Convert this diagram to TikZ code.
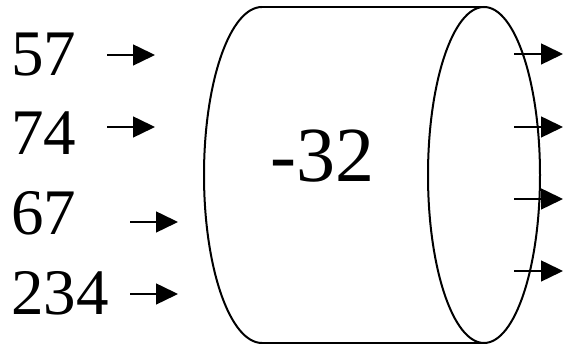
\documentclass[tikz,border=0pt]{standalone}
\usepackage{fontspec}
\setmainfont{Liberation Serif}
\usetikzlibrary{arrows.meta}
\tikzset{
  num/.style={anchor=base west,inner sep=0pt,font=\fontsize{65}{65}\selectfont},
  arr/.style={line width=1.5pt,-{Triangle[length=22pt,width=21pt]}},
  rim/.style={line width=2pt}
}
\begin{document}
\begin{tikzpicture}[x=1pt,y=1pt]
        \useasboundingbox (0,0) rectangle (563,344);
        %% cylinder
        \draw[rim] (262,337) -- (484,337);
        \draw[rim] (262,1) -- (484,1);
        \draw[rim] (262,337) arc (90:270:58 and 168);
        \draw[rim] (484,169) ellipse (56 and 168);
        \node[num,font=\fontsize{78}{78}\selectfont] (sum) at (270,162) {-32};
        %% inputs
        \node[num] (n57) at (11,268) {57};
        \node[num] (n74) at (11,189) {74};
        \node[num] (n67) at (11,109) {67};
        \node[num] (n234) at (11,29) {234};
        \coordinate (a1) at (107,289); \coordinate (b1) at (155,289);
        \coordinate (a2) at (107,217); \coordinate (b2) at (155,217);
        \coordinate (a3) at (130,122); \coordinate (b3) at (178,122);
        \coordinate (a4) at (130,50);  \coordinate (b4) at (178,50);
        \foreach \i in {1,...,4}
            \draw[arr] (a\i) -- (b\i);
        %% outputs
        \foreach \i/\y in {1/290,2/217,3/145,4/73} {
            \coordinate (c\i) at (514,\y);
            \coordinate (d\i) at (563,\y);
            \draw[arr] (c\i) -- (d\i);
        }
    \end{tikzpicture}
\end{document}
